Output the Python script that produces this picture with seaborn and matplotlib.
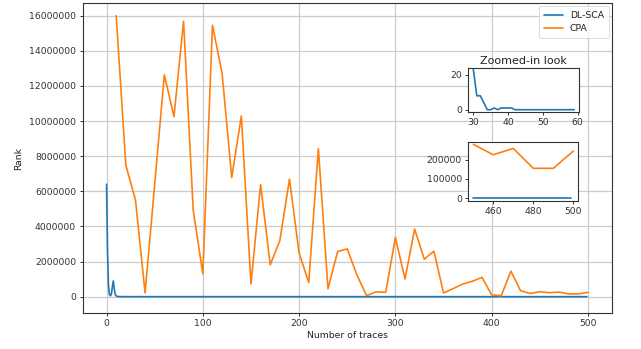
import matplotlib
matplotlib.use("Agg")
import matplotlib.pyplot as plt
import seaborn as sns
import pandas as pd
import numpy as np

# ---- data ----
dl_head = [6400000, 2500000, 600000, 120000, 50000, 150000, 550000, 900000, 450000, 120000,
           40000, 15000, 9000, 5000, 3000, 1800, 1100, 700, 450, 300,
           200, 140, 100, 75, 55, 45, 38, 32, 28, 25,
           23, 8, 8, 4, 0, 0, 1, 0, 1, 1,
           1, 1, 0, 0, 0, 0, 0, 0, 0, 0,
           0, 0, 0, 0, 0, 0, 0, 0, 0, 0]
dl_tail = [0] * 440
dl_values = dl_head + dl_tail
dl_traces = list(range(0, 500))

cpa_traces = list(range(10, 510, 10))
cpa_values = [16000000, 7490000, 5520000, 210000, 6400000, 12630000, 10250000, 15680000, 4910000, 1300000,
              15450000, 12720000, 6780000, 10290000, 720000, 6380000, 1810000, 3200000, 6690000, 2480000,
              800000, 8430000, 450000, 2570000, 2720000, 1240000, 60000, 270000, 250000, 3370000,
              1010000, 3850000, 2130000, 2590000, 210000, 460000, 720000, 880000, 1100000, 100000,
              60000, 1450000, 340000, 180000, 280000, 226000, 259000, 155000, 155000, 245000]

labels = ["DL-SCA", "CPA"]
xlabel = "Number of traces"
ylabel = "Rank"
inset_title = "Zoomed-in look"

dl_df = pd.DataFrame({"traces": dl_traces, "rank": dl_values})
cpa_df = pd.DataFrame({"traces": cpa_traces, "rank": cpa_values})

# ---- style ----
sns.set_style("ticks", {"axes.grid": True})
fs = 6.7
plt.rcParams.update({
    "font.family": ["DejaVu Sans"],
    "font.size": fs,
    "axes.labelsize": fs,
    "xtick.labelsize": fs,
    "ytick.labelsize": fs,
    "legend.fontsize": fs,
    "axes.titlesize": fs * 1.2,
    "axes.edgecolor": "#333333",
    "axes.linewidth": 0.8,
    "grid.color": "#cccccc",
    "grid.linewidth": 0.9,
    "xtick.major.size": 2.3,
    "ytick.major.size": 2.3,
    "xtick.major.width": 0.7,
    "ytick.major.width": 0.7,
    "xtick.major.pad": 2.3,
    "ytick.major.pad": 2.3,
    "xtick.color": "#333333",
    "ytick.color": "#333333",
    "text.color": "#222222",
    "axes.labelcolor": "#222222",
})

blue = "#1f77b4"
orange = "#ff7f0e"
lw = 1.2

W, H = 641, 349
fig = plt.figure(figsize=(W / 100, H / 100), dpi=100)

ax = fig.add_axes([82.5 / W, (H - 313) / H, (612 - 82.5) / W, (313 - 3) / H])
sns.lineplot(data=dl_df, x="traces", y="rank", ax=ax, color=blue, linewidth=lw, label=labels[0])
sns.lineplot(data=cpa_df, x="traces", y="rank", ax=ax, color=orange, linewidth=lw, label=labels[1])
ax.set_xlim(-25, 525)
ax.set_ylim(-930000, 16720000)
ax.set_xticks([0, 100, 200, 300, 400, 500])
ax.set_yticks(list(range(0, 16000001, 2000000)))
ax.ticklabel_format(axis="y", style="plain", useOffset=False)
ax.set_xlabel(xlabel, labelpad=2)
ax.set_ylabel(ylabel, labelpad=4)
ax.grid(True)
leg = ax.legend(loc="upper right", frameon=True, handlelength=2.0, borderpad=0.5,
                labelspacing=0.45, borderaxespad=0.35)
leg.get_frame().set_edgecolor("#cccccc")
leg.get_frame().set_linewidth(0.6)

# inset 1: DL-SCA zoom 30..59
ins1 = fig.add_axes([468.3 / W, (H - 111.7) / H, 111 / W, 44 / H])
sub1 = dl_df[(dl_df["traces"] >= 30) & (dl_df["traces"] <= 59)]
sns.lineplot(data=sub1, x="traces", y="rank", ax=ins1, color=blue, linewidth=lw)
ins1.set_xticks([30, 40, 50, 60])
ins1.set_yticks([0, 20])
ins1.grid(False)
ins1.set_xlabel("")
ins1.set_ylabel("")
ins1.set_title(inset_title, pad=3)

# inset 2: 450..500
ins2 = fig.add_axes([468.3 / W, (H - 200.7) / H, 110 / W, 59 / H])
sub2 = dl_df[dl_df["traces"] >= 450]
sub3 = cpa_df[cpa_df["traces"] >= 450]
sns.lineplot(data=sub2, x="traces", y="rank", ax=ins2, color=blue, linewidth=lw)
sns.lineplot(data=sub3, x="traces", y="rank", ax=ins2, color=orange, linewidth=lw)
ins2.set_xticks([460, 480, 500])
ins2.set_yticks([0, 100000, 200000])
ins2.ticklabel_format(axis="y", style="plain", useOffset=False)
ins2.grid(False)
ins2.set_xlabel("")
ins2.set_ylabel("")

fig.savefig("out.png", dpi=100, facecolor="white")
